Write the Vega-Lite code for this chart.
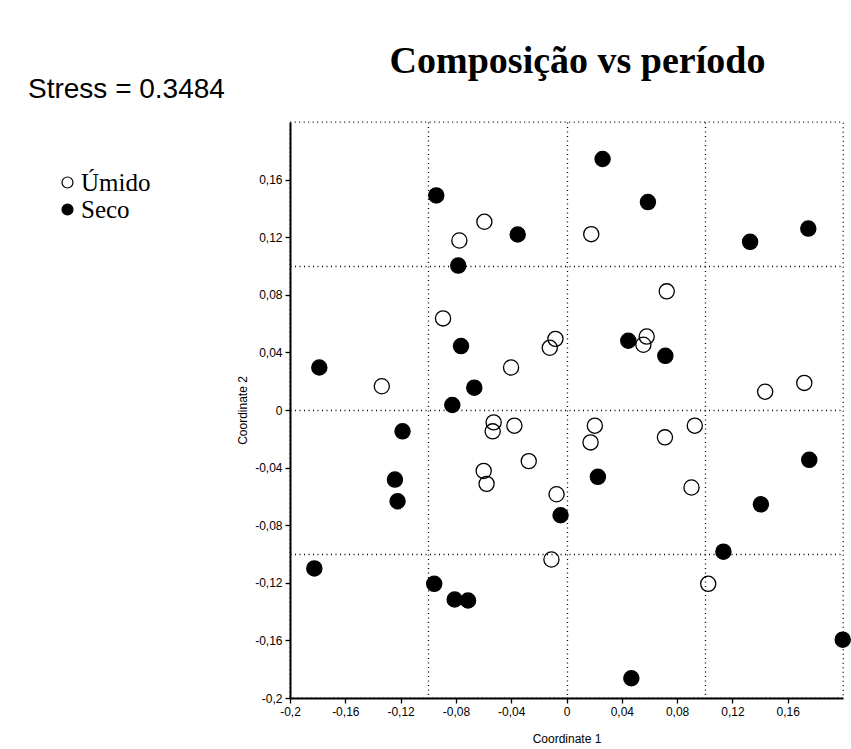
{
  "$schema": "https://vega.github.io/schema/vega-lite/v6.json",
  "autosize": "none",
  "width": 553,
  "height": 576,
  "padding": {"left": 290, "top": 122, "right": 8, "bottom": 51},
  "background": "white",
  "title": {
    "text": "Composição vs período",
    "font": "Liberation Serif",
    "fontSize": 38,
    "fontWeight": "bold",
    "color": "black",
    "anchor": "middle",
    "frame": "group",
    "baseline": "alphabetic",
    "offset": -35,
    "dx": 11
  },
  "data": {
    "values": [
      {"x": -0.0942, "y": 0.149, "g": "Seco"},
      {"x": -0.0353, "y": 0.1219, "g": "Seco"},
      {"x": -0.0783, "y": 0.1003, "g": "Seco"},
      {"x": -0.0763, "y": 0.0444, "g": "Seco"},
      {"x": -0.1788, "y": 0.0295, "g": "Seco"},
      {"x": -0.0667, "y": 0.0155, "g": "Seco"},
      {"x": -0.0826, "y": 0.0035, "g": "Seco"},
      {"x": -0.1186, "y": -0.0148, "g": "Seco"},
      {"x": -0.1241, "y": -0.0483, "g": "Seco"},
      {"x": -0.1222, "y": -0.0634, "g": "Seco"},
      {"x": -0.1824, "y": -0.110, "g": "Seco"},
      {"x": -0.0957, "y": -0.1207, "g": "Seco"},
      {"x": -0.0809, "y": -0.1316, "g": "Seco"},
      {"x": -0.0712, "y": -0.1323, "g": "Seco"},
      {"x": 0.0261, "y": 0.1743, "g": "Seco"},
      {"x": 0.0589, "y": 0.1444, "g": "Seco"},
      {"x": 0.1328, "y": 0.1168, "g": "Seco"},
      {"x": 0.1749, "y": 0.126, "g": "Seco"},
      {"x": 0.0447, "y": 0.0481, "g": "Seco"},
      {"x": 0.0715, "y": 0.0376, "g": "Seco"},
      {"x": 0.0227, "y": -0.0464, "g": "Seco"},
      {"x": -0.0043, "y": -0.0731, "g": "Seco"},
      {"x": 0.1756, "y": -0.0346, "g": "Seco"},
      {"x": 0.1406, "y": -0.0655, "g": "Seco"},
      {"x": 0.1135, "y": -0.0984, "g": "Seco"},
      {"x": 0.1998, "y": -0.1595, "g": "Seco"},
      {"x": 0.0469, "y": -0.1863, "g": "Seco"},
      {"x": -0.0594, "y": 0.1307, "g": "Úmido"},
      {"x": -0.0775, "y": 0.1177, "g": "Úmido"},
      {"x": -0.0893, "y": 0.0636, "g": "Úmido"},
      {"x": -0.0401, "y": 0.0295, "g": "Úmido"},
      {"x": -0.1336, "y": 0.0165, "g": "Úmido"},
      {"x": -0.008, "y": 0.0494, "g": "Úmido"},
      {"x": -0.0121, "y": 0.0432, "g": "Úmido"},
      {"x": -0.0527, "y": -0.0086, "g": "Úmido"},
      {"x": -0.0534, "y": -0.0148, "g": "Úmido"},
      {"x": -0.0377, "y": -0.0109, "g": "Úmido"},
      {"x": -0.0273, "y": -0.0355, "g": "Úmido"},
      {"x": -0.0599, "y": -0.0423, "g": "Úmido"},
      {"x": -0.0578, "y": -0.0513, "g": "Úmido"},
      {"x": -0.0072, "y": -0.0585, "g": "Úmido"},
      {"x": -0.0109, "y": -0.1038, "g": "Úmido"},
      {"x": 0.0179, "y": 0.1221, "g": "Úmido"},
      {"x": 0.0725, "y": 0.0824, "g": "Úmido"},
      {"x": 0.058, "y": 0.051, "g": "Úmido"},
      {"x": 0.0556, "y": 0.0453, "g": "Úmido"},
      {"x": 0.1437, "y": 0.0127, "g": "Úmido"},
      {"x": 0.172, "y": 0.0188, "g": "Úmido"},
      {"x": 0.0205, "y": -0.0109, "g": "Úmido"},
      {"x": 0.0174, "y": -0.0225, "g": "Úmido"},
      {"x": 0.0712, "y": -0.019, "g": "Úmido"},
      {"x": 0.0928, "y": -0.0109, "g": "Úmido"},
      {"x": 0.0904, "y": -0.0538, "g": "Úmido"},
      {"x": 0.1025, "y": -0.1207, "g": "Úmido"}
    ]
  },
  "mark": {"type": "point", "shape": "circle", "filled": true, "size": 230, "stroke": "black", "strokeWidth": 1.3, "opacity": 1},
  "encoding": {
    "x": {
      "field": "x", "type": "quantitative",
      "scale": {"domain": [-0.2, 0.2], "nice": false, "zero": false},
      "axis": {
        "title": "Coordinate 1",
        "values": [-0.2, -0.16, -0.12, -0.1, -0.08, -0.04, 0, 0.04, 0.08, 0.1, 0.12, 0.16],
        "labelExpr": "abs(abs(datum.value) - 0.1) < 1e-6 ? '' : replace(toString(datum.value), '.', ',')",
        "tickOpacity": {"condition": {"test": "abs(abs(datum.value) - 0.1) < 1e-6", "value": 0}, "value": 1},
        "grid": true,
        "gridOpacity": {"condition": {"test": "abs(abs(datum.value) - 0.1) < 1e-6 || datum.value == 0", "value": 1}, "value": 0},
        "titlePadding": 16
      }
    },
    "y": {
      "field": "y", "type": "quantitative",
      "scale": {"domain": [-0.2, 0.2], "nice": false, "zero": false},
      "axis": {
        "title": "Coordinate 2",
        "values": [-0.2, -0.16, -0.12, -0.1, -0.08, -0.04, 0, 0.04, 0.08, 0.1, 0.12, 0.16],
        "labelExpr": "abs(abs(datum.value) - 0.1) < 1e-6 ? '' : replace(toString(datum.value), '.', ',')",
        "tickOpacity": {"condition": {"test": "abs(abs(datum.value) - 0.1) < 1e-6", "value": 0}, "value": 1},
        "grid": true,
        "gridOpacity": {"condition": {"test": "abs(abs(datum.value) - 0.1) < 1e-6 || datum.value == 0", "value": 1}, "value": 0},
        "titlePadding": 5
      }
    },
    "fill": {
      "field": "g", "type": "nominal",
      "scale": {"domain": ["Úmido", "Seco"], "range": ["transparent", "black"]},
      "legend": {
        "title": "Stress = 0.3484",
        "orient": "none",
        "legendX": -262,
        "legendY": -46,
        "padding": 0,
        "titleFont": "Liberation Sans",
        "titleFontSize": 28,
        "titleFontWeight": "normal",
        "titleColor": "black",
        "titleLimit": 400,
        "titlePadding": 66,
        "symbolOffset": 27,
        "symbolSize": 120,
        "symbolType": "circle",
        "symbolStrokeWidth": 1.2,
        "labelFont": "Liberation Serif",
        "labelFontSize": 25,
        "labelColor": "black",
        "labelOffset": 1,
        "rowPadding": 1,
        "encode": {
          "symbols": {"update": {"stroke": {"signal": "datum.value === 'Úmido' ? '#888888' : '#000000'"}}}
        }
      }
    }
  },
  "config": {
    "view": {"stroke": "black", "strokeDash": [1, 3.5], "strokeWidth": 1.3},
    "axis": {
      "domainColor": "black",
      "domainWidth": 2,
      "tickColor": "black",
      "tickWidth": 1.3,
      "tickSize": 5,
      "labelFont": "Liberation Sans",
      "labelFontSize": 12,
      "labelColor": "black",
      "labelPadding": 3,
      "labelFlush": false,
      "labelOverlap": false,
      "titleFont": "Liberation Sans",
      "titleFontSize": 12,
      "titleFontWeight": "normal",
      "titleColor": "black",
      "gridColor": "black",
      "gridDash": [1, 3.5],
      "gridWidth": 1.3
    }
  }
}
